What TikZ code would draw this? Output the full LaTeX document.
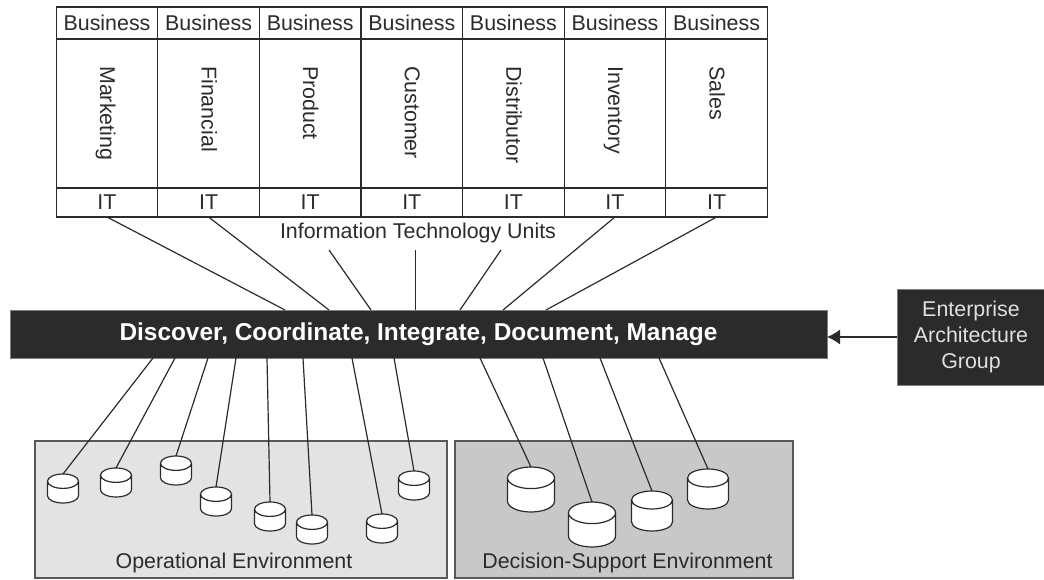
\documentclass[tikz,border=0pt]{standalone}
\usepackage{fontspec}
\setmainfont{Liberation Sans}
\usepackage{tikz}
\usetikzlibrary{arrows.meta,shapes.geometric}

\definecolor{inkgray}{HTML}{2B2B2B}
\definecolor{opgray}{HTML}{E3E3E3}
\definecolor{dsgray}{HTML}{C8C8C8}

\tikzset{
    caption/.style={anchor = center, text=inkgray, inner sep=0pt, font=\fontsize{21.4}{26}\selectfont},
    cell/.style={draw=inkgray, line width=1.2pt, anchor = center, inner sep=0pt, outer sep=0pt, minimum width=101.6pt, text=inkgray, font=\fontsize{21.4}{26}\selectfont},
    unit/.style={anchor = base west, rotate=-90, text=inkgray, inner sep=0pt, font=\fontsize{21.4}{26}\selectfont},
    link/.style={draw=inkgray, line width=1.2pt},
    env/.style={draw=black!65, line width=1.5pt, anchor = center, inner sep=0pt, outer sep=0pt},
    dark/.style={fill=inkgray, draw=black!50, line width=0.6pt, anchor = center, inner sep=0pt, outer sep=0pt},
    can/.style={cylinder, shape border rotate=90, draw=inkgray, line width=1.2pt, fill=white, aspect=1.8, outer sep=0pt, anchor = north},
    smallcan/.style={can, inner sep=4pt, minimum width=31pt, minimum height=29pt},
    bigcan/.style={can, inner sep=6pt, minimum width=47pt, minimum height=45pt},
    midcan/.style={can, inner sep=5pt, minimum width=41pt, minimum height=40pt}
}

\begin{document}
\begin{tikzpicture}[x=1pt, y=-1pt]
    \useasboundingbox (0,0) rectangle (1044,580);

    % business units
    \node[cell, minimum height=32pt] (bus1) at (107,23){Business};
    \node[cell, minimum height=32pt] (bus2) at (208.6,23){Business};
    \node[cell, minimum height=32pt] (bus3) at (310.2,23){Business};
    \node[cell, minimum height=32pt] (bus4) at (411.8,23){Business};
    \node[cell, minimum height=32pt] (bus5) at (513.4,23){Business};
    \node[cell, minimum height=32pt] (bus6) at (615,23){Business};
    \node[cell, minimum height=32pt] (bus7) at (716.6,23){Business};

    \node[cell, minimum height=149pt] (mid1) at (107,113.5){};
    \node[cell, minimum height=149pt] (mid2) at (208.6,113.5){};
    \node[cell, minimum height=149pt] (mid3) at (310.2,113.5){};
    \node[cell, minimum height=149pt] (mid4) at (411.8,113.5){};
    \node[cell, minimum height=149pt] (mid5) at (513.4,113.5){};
    \node[cell, minimum height=149pt] (mid6) at (615,113.5){};
    \node[cell, minimum height=149pt] (mid7) at (716.6,113.5){};

    \node[unit] (marketing) at (100,66){Marketing};
    \node[unit] (financial) at (201.6,66){Financial};
    \node[unit] (product) at (303.2,66){Product};
    \node[unit] (customer) at (404.8,66){Customer};
    \node[unit] (distributor) at (506.4,66){Distributor};
    \node[unit] (inventory) at (608,66){Inventory};
    \node[unit] (sales) at (709.6,66){Sales};

    \node[cell, minimum height=29pt] (it1) at (107,202.5){IT};
    \node[cell, minimum height=29pt] (it2) at (208.6,202.5){IT};
    \node[cell, minimum height=29pt] (it3) at (310.2,202.5){IT};
    \node[cell, minimum height=29pt] (it4) at (411.8,202.5){IT};
    \node[cell, minimum height=29pt] (it5) at (513.4,202.5){IT};
    \node[cell, minimum height=29pt] (it6) at (615,202.5){IT};
    \node[cell, minimum height=29pt] (it7) at (716.6,202.5){IT};

    \node[caption] (units) at (418,233){Information Technology Units};

    % central bar and group box
    \node[dark, minimum width=817pt, minimum height=48pt, text=white, font=\fontsize{24.4}{26}\selectfont\bfseries] (bar) at (418.5,334){Discover, Coordinate, Integrate, Document, Manage};
    \node[dark, minimum width=148pt, minimum height=96pt, text=white!88!black, align=center, font=\fontsize{21.4}{26}\selectfont] (group) at (971,337){Enterprise\\Architecture\\Group};
    \draw[link, -{Latex[length=13pt,width=15pt]}] (group.west) -- (group.west -| bar.east);

    \coordinate (free3) at (329,250);
    \coordinate (free4) at (415.5,250);
    \coordinate (free5) at (501,250);
    \draw[link] (it1.south) -- ([xshift=275pt]bar.north west);
    \draw[link] (it2.south) -- ([xshift=319pt]bar.north west);
    \draw[link] (free3) -- ([xshift=361pt]bar.north west);
    \draw[link] (free4) -- ([xshift=405.5pt]bar.north west);
    \draw[link] (free5) -- ([xshift=450pt]bar.north west);
    \draw[link] (it6.south) -- ([xshift=493pt]bar.north west);
    \draw[link] (it7.south) -- ([xshift=536pt]bar.north west);

    % environments
    \node[env, fill=opgray, minimum width=412pt, minimum height=137pt] (opbox) at (241,509.5){};
    \node[env, fill=dsgray, minimum width=338pt, minimum height=137pt] (dsbox) at (624,509.5){};
    \node[caption] (oplabel) at (234,563){Operational Environment};
    \node[caption] (dslabel) at (627.5,563){Decision-Support Environment};

    \node[smallcan] (op1) at (63,474){};
    \node[smallcan] (op2) at (116,468){};
    \node[smallcan] (op3) at (176,456){};
    \node[smallcan] (op4) at (216,487){};
    \node[smallcan] (op5) at (270,502){};
    \node[smallcan] (op6) at (312,515){};
    \node[smallcan] (op7) at (382,514){};
    \node[smallcan] (op8) at (414,471){};

    \node[bigcan] (ds1) at (531,467){};
    \node[bigcan] (ds2) at (592,502){};
    \node[midcan] (ds3) at (652,491){};
    \node[midcan] (ds4) at (708,469){};

    \draw[link] ([xshift=143pt]bar.south west) -- (op1.north);
    \draw[link] ([xshift=165pt]bar.south west) -- (op2.north);
    \draw[link] ([xshift=198pt]bar.south west) -- (op3.north);
    \draw[link] ([xshift=226pt]bar.south west) -- (op4.north);
    \draw[link] ([xshift=257pt]bar.south west) -- (op5.north);
    \draw[link] ([xshift=293pt]bar.south west) -- (op6.north);
    \draw[link] ([xshift=342pt]bar.south west) -- (op7.north);
    \draw[link] ([xshift=384pt]bar.south west) -- (op8.north);
    \draw[link] ([xshift=470pt]bar.south west) -- (ds1.north);
    \draw[link] ([xshift=533pt]bar.south west) -- (ds2.north);
    \draw[link] ([xshift=590pt]bar.south west) -- (ds3.north);
    \draw[link] ([xshift=649pt]bar.south west) -- (ds4.north);
\end{tikzpicture}
\end{document}
